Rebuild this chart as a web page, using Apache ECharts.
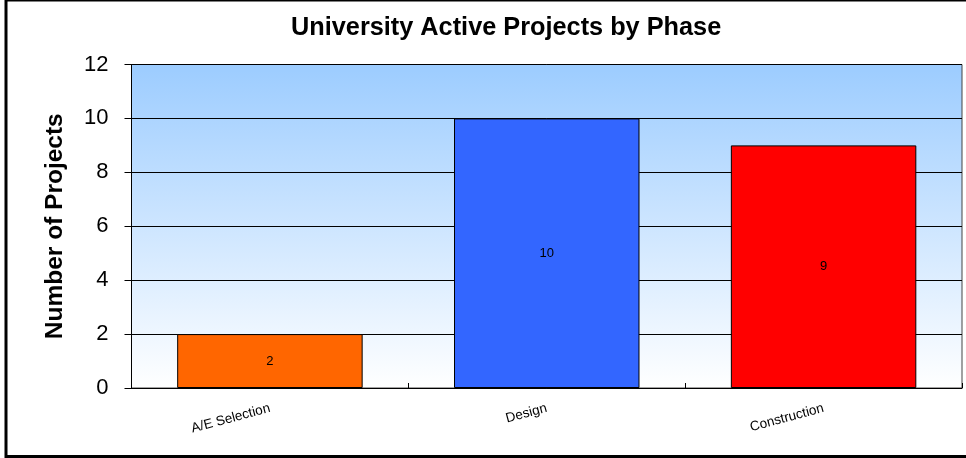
<!DOCTYPE html>
<html>
<head>
<meta charset="utf-8">
<script src="https://cdn.jsdelivr.net/npm/echarts@6/dist/echarts.min.js"></script>
<style>
html,body{margin:0;padding:0;background:#fff;}
#main{width:966px;height:458px;}
</style>
</head>
<body>
<div id="main"></div>
<script>
const categories = ['A/E Selection', 'Design', 'Construction'];
const values = [2, 10, 9];
const barColors = ['#FF6600', '#3366FF', '#FF0000'];
const titleText = 'University Active Projects by Phase';
const yAxisName = 'Number of Projects';

const chart = echarts.init(document.getElementById('main'));
chart.setOption({
  animation: false,
  backgroundColor: '#fff',
  title: {
    text: titleText,
    left: 286,
    top: 11,
    textStyle: {fontFamily: 'Liberation Sans, Arial', fontWeight: 'bold', fontSize: 25.3, color: '#000'}
  },
  graphic: [{
    type: 'rect',
    shape: {x: 6, y: 0, width: 1000, height: 456.5},
    style: {fill: 'none', stroke: '#000', lineWidth: 3},
    silent: true,
    z: 100
  }],
  grid: {
    left: 131.5, top: 64.5, right: 4, bottom: 70,
    show: true,
    borderColor: '#444',
    borderWidth: 1,
    backgroundColor: {
      type: 'linear', x: 0, y: 0, x2: 0, y2: 1,
      colorStops: [{offset: 0, color: '#9CCCFF'}, {offset: 1, color: '#FFFFFF'}]
    }
  },
  xAxis: {
    type: 'category',
    data: categories,
    axisLine: {show: true, lineStyle: {color: '#000', width: 1}},
    axisTick: {show: true, inside: true, length: 5, lineStyle: {color: '#000'}},
    axisLabel: {
      rotate: 15, margin: 20, fontSize: 13.5,
      fontFamily: 'Liberation Sans, Arial', color: '#000'
    }
  },
  yAxis: {
    type: 'value',
    min: 0, max: 12, interval: 2,
    name: yAxisName,
    nameLocation: 'middle',
    nameRotate: 90,
    nameGap: 64,
    nameTextStyle: {fontFamily: 'Liberation Sans, Arial', fontWeight: 'bold', fontSize: 24.5, color: '#000'},
    axisLine: {show: true, lineStyle: {color: '#000', width: 1}},
    axisTick: {show: true, inside: false, length: 7, lineStyle: {color: '#000'}},
    axisLabel: {margin: 23, fontSize: 22, fontFamily: 'Liberation Sans, Arial', color: '#000'},
    splitLine: {show: true, lineStyle: {color: '#000', width: 1}}
  },
  series: [{
    type: 'bar',
    barWidth: '67%',
    data: values.map((v, i) => ({
      value: v,
      itemStyle: {color: barColors[i], borderColor: '#000', borderWidth: 1}
    })),
    label: {
      show: true, position: 'inside', fontSize: 13,
      fontFamily: 'Liberation Sans, Arial', color: '#000'
    }
  }]
});
</script>
</body>
</html>
